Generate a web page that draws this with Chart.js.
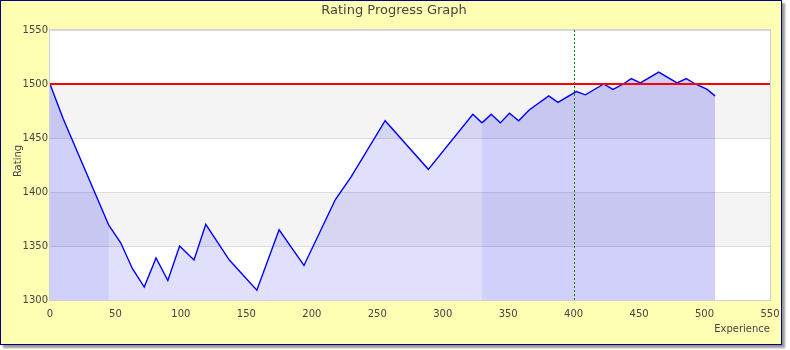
<!DOCTYPE html>
<html>
<head>
<meta charset="utf-8">
<script src="https://cdn.jsdelivr.net/npm/chart.js@4.4.1/dist/chart.umd.min.js"></script>
<style>
  body { margin: 0; background: #fff; }
  #frame {
    position: absolute; left: 0; top: 0;
    width: 780px; height: 343px;
    border: 1px solid #000080;
    background: #ffffb4;
    box-shadow: 3px 3px 2px #999;
  }
  #chart { display: block; }
</style>
</head>
<body>
<div id="frame"><canvas id="chart" width="780" height="343"></canvas></div>
<script>
'use strict';

// Experience (x) and rating (y)
var experience = [0, 10, 45, 54, 63, 72, 81, 90, 99, 110, 119, 137, 158, 175, 194, 218, 230, 256, 289,
  323, 330, 337, 344, 351, 358, 366, 381, 388, 402, 409, 423, 430, 438, 444, 451, 465, 479, 486, 493, 502, 508];
var rating = [1500, 1468, 1369, 1353, 1329, 1312, 1339, 1318, 1350, 1337, 1370, 1337, 1309, 1365, 1332, 1393, 1414, 1466, 1421,
  1472, 1464, 1472, 1464, 1473, 1466, 1476, 1489, 1483, 1493, 1490, 1500, 1495, 1500, 1505, 1501, 1511, 1501, 1505, 1500, 1495, 1489];

var xTicks = [0, 50, 100, 150, 200, 250, 300, 350, 400, 450, 500, 550];
var yTicks = [1300, 1350, 1400, 1450, 1500, 1550];
var bands = [[1350, 1400], [1450, 1500]]; // grey bands
var baseRating = 1500;   // red reference line
var markerExp = 400;     // green dotted marker
var darkRanges = [[0, 45], [330, 508]]; // darker shaded spans

var points = experience.map(function(x, i) { return { x: x, y: rating[i] }; });

function inDark(x) {
  return darkRanges.some(function(r) { return x >= r[0] && x < r[1]; });
}

// Background bands, frame, reference lines and axis titles
var decor = {
  id: 'decor',
  beforeDraw: function(chart) {
    var ctx = chart.ctx, a = chart.chartArea, ys = chart.scales.y;
    ctx.save();
    ctx.fillStyle = '#ffffff';
    ctx.fillRect(a.left, a.top, a.right - a.left, a.bottom - a.top);
    ctx.fillStyle = '#f4f4f4';
    bands.forEach(function(b) {
      var y1 = ys.getPixelForValue(b[1]), y0 = ys.getPixelForValue(b[0]);
      ctx.fillRect(a.left, y1, a.right - a.left, y0 - y1);
    });
    ctx.restore();
  },
  afterDatasetsDraw: function(chart) {
    var ctx = chart.ctx, a = chart.chartArea;
    var xs = chart.scales.x, ys = chart.scales.y;
    ctx.save();
    // green dotted marker
    var mx = Math.round(xs.getPixelForValue(markerExp)) + 0.5;
    ctx.strokeStyle = '#008800';
    ctx.lineWidth = 1;
    ctx.setLineDash([2, 2]);
    ctx.beginPath();
    ctx.moveTo(mx, a.top);
    ctx.lineTo(mx, a.bottom);
    ctx.stroke();
    ctx.setLineDash([]);
    // red base line
    var ry = ys.getPixelForValue(baseRating);
    ctx.strokeStyle = '#ff0000';
    ctx.lineWidth = 2;
    ctx.beginPath();
    ctx.moveTo(a.left, ry);
    ctx.lineTo(a.right, ry);
    ctx.stroke();
    // plot frame
    ctx.strokeStyle = '#cfcfdf';
    ctx.lineWidth = 1;
    ctx.strokeRect(a.left - 0.5, a.top - 0.5, a.right - a.left + 1, a.bottom - a.top + 1);
    // texts
    ctx.fillStyle = '#444444';
    ctx.font = '13px "DejaVu Sans"';
    ctx.textAlign = 'center';
    ctx.textBaseline = 'middle';
    ctx.fillText('Rating Progress Graph', 393, 10);
    ctx.font = '10px "DejaVu Sans"';
    ctx.textAlign = 'right';
    ctx.fillText('Experience', a.right, 328);
    ctx.translate(17, 160);
    ctx.rotate(-Math.PI / 2);
    ctx.textAlign = 'center';
    ctx.fillText('Rating', 0, 0);
    ctx.restore();
  }
};

function plain(v) { return String(v); }

var chart = new Chart(document.getElementById('chart'), {
  type: 'line',
  data: {
    datasets: [{
      data: points,
      borderColor: '#0000ff',
      borderWidth: 1.4,
      pointRadius: 0,
      tension: 0,
      fill: 'start',
      backgroundColor: 'rgba(0, 0, 240, 0.12)',
      segment: {
        backgroundColor: function(c) {
          return inDark(c.p0.parsed.x) ? 'rgba(0, 0, 230, 0.185)' : 'rgba(0, 0, 240, 0.12)';
        }
      }
    }]
  },
  options: {
    responsive: false,
    animation: false,
    layout: { padding: { top: 29, right: 11, left: 0, bottom: 0 } },
    plugins: {
      legend: { display: false },
      title: { display: false },
      tooltip: { enabled: false }
    },
    scales: {
      x: {
        type: 'linear',
        min: 0,
        max: 550,
        afterFit: function(s) { s.height = 44; s.paddingLeft = 0; s.paddingRight = 0; },
        afterBuildTicks: function(s) { s.ticks = xTicks.map(function(v) { return { value: v }; }); },
        grid: { display: false, drawTicks: false },
        border: { display: false },
        ticks: { color: '#444', padding: 8, maxRotation: 0, callback: plain, font: { family: 'DejaVu Sans', size: 10 } }
      },
      y: {
        min: 1300,
        max: 1550,
        afterFit: function(s) { s.width = 49; s.paddingTop = 0; s.paddingBottom = 0; },
        afterBuildTicks: function(s) { s.ticks = yTicks.map(function(v) { return { value: v }; }); },
        grid: { color: '#dddddd', lineWidth: 1, drawTicks: false },
        border: { display: false },
        ticks: { color: '#444', padding: 2, callback: plain, font: { family: 'DejaVu Sans', size: 10 } }
      }
    }
  },
  plugins: [decor]
});
</script>
</body>
</html>
